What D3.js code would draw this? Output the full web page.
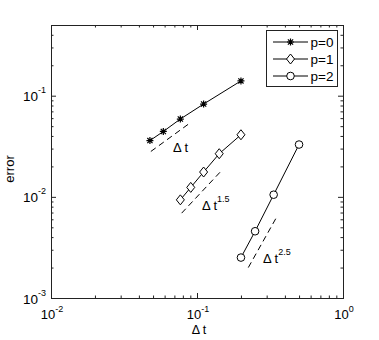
<!DOCTYPE html>
<html>
<head>
<meta charset="utf-8">
<script src="https://cdn.jsdelivr.net/npm/d3@7"></script>
<style>
  body { margin: 0; background: #fff; }
  text { font-family: "Liberation Sans", Arial, Helvetica, sans-serif; fill: #000; }
</style>
</head>
<body>
<div id="chart"></div>
<script>
// series: time step vs error
const dt0 = [0.0476, 0.0588, 0.0769, 0.111, 0.2];
const err0 = [0.0360, 0.0443, 0.0588, 0.0827, 0.140];
const dt1 = [0.0769, 0.0906, 0.111, 0.142, 0.2];
const err1 = [0.00934, 0.0124, 0.0176, 0.0267, 0.0411];
const dt2 = [0.2, 0.25, 0.335, 0.5];
const err2 = [0.00251, 0.00457, 0.0105, 0.0329];
const seriesNames = ["p=0", "p=1", "p=2"];
const markers = ["star", "diamond", "circle"];

// dashed reference slopes
const refDt = [[0.0483, 0.0906], [0.0785, 0.149], [0.2246, 0.3477]];
const refErr = [[0.0281, 0.0544], [0.0069, 0.0185], [0.0020, 0.00615]];
const refLabelDt = [0.0685, 0.108, 0.283];
const refLabelErr = [0.0279, 0.00743, 0.00222];
const refPow = ["", "1.5", "2.5"];

const xTicks = [0.01, 0.1, 1];
const xTickExp = ["-2", "-1", "0"];
const yTicks = [0.001, 0.01, 0.1];
const yTickExp = ["-3", "-2", "-1"];

const width = 379, height = 340;
const mLeft = 51, mRight = 343, mTop = 25, mBottom = 298;

const svg = d3.select("#chart").append("svg")
    .attr("width", width)
    .attr("height", height);

const x = d3.scaleLog().domain([0.01, 1]).range([mLeft, mRight]);
const y = d3.scaleLog().domain([0.001, 0.5]).range([mBottom, mTop]);

// minor tick values
function minors(lo, hi) {
    const out = [];
    for (let d = lo; d < hi; d *= 10) {
        for (let k = 2; k <= 9; k++) {
            const v = d * k;
            if (v <= hi * 1.0001) out.push(v);
        }
    }
    return out;
}
const xMinor = minors(0.01, 1);
const yMinor = minors(0.001, 0.5);

function drawAxis(axis, tr) {
    const g = svg.append("g").attr("transform", tr).call(axis);
    g.select(".domain").remove();
    g.selectAll("line").attr("stroke", "#222").attr("stroke-width", 1);
}

drawAxis(d3.axisBottom(x).tickValues(xTicks).tickSize(-5).tickFormat(""), `translate(0,${mBottom})`);
drawAxis(d3.axisBottom(x).tickValues(xMinor).tickSize(-2.5).tickFormat(""), `translate(0,${mBottom})`);
drawAxis(d3.axisTop(x).tickValues(xTicks).tickSize(-5).tickFormat(""), `translate(0,${mTop})`);
drawAxis(d3.axisTop(x).tickValues(xMinor).tickSize(-2.5).tickFormat(""), `translate(0,${mTop})`);
drawAxis(d3.axisLeft(y).tickValues(yTicks).tickSize(-5).tickFormat(""), `translate(${mLeft},0)`);
drawAxis(d3.axisLeft(y).tickValues(yMinor).tickSize(-2.5).tickFormat(""), `translate(${mLeft},0)`);
drawAxis(d3.axisRight(y).tickValues(yTicks).tickSize(-5).tickFormat(""), `translate(${mRight},0)`);
drawAxis(d3.axisRight(y).tickValues(yMinor).tickSize(-2.5).tickFormat(""), `translate(${mRight},0)`);

svg.append("rect")
    .attr("x", mLeft + 0.5).attr("y", mTop + 0.5)
    .attr("width", mRight - mLeft).attr("height", mBottom - mTop)
    .attr("fill", "none").attr("stroke", "#222").attr("stroke-width", 1);

// tick labels 10^n
xTicks.forEach((v, i) => {
    const t = svg.append("text")
        .attr("x", x(v) + 1).attr("y", mBottom + 21)
        .attr("text-anchor", "middle")
        .attr("font-size", 13);
    t.append("tspan").text("10");
    t.append("tspan").attr("dy", -7).attr("font-size", 9).text(xTickExp[i]);
});
yTicks.forEach((v, i) => {
    const t = svg.append("text")
        .attr("x", mLeft - 5).attr("y", y(v) + 5.5)
        .attr("text-anchor", "end")
        .attr("font-size", 13.5);
    t.append("tspan").text("10");
    t.append("tspan").attr("dy", -8).attr("font-size", 9).text(yTickExp[i]);
});

svg.append("text")
    .attr("x", 199).attr("y", 334)
    .attr("text-anchor", "middle")
    .attr("font-size", 12.5)
    .text("\u0394 t");

svg.append("text")
    .attr("transform", `translate(14,169) rotate(-90)`)
    .attr("text-anchor", "middle")
    .attr("font-size", 13)
    .text("error");

// reference slopes
refDt.forEach((xs, i) => {
    svg.append("line")
        .attr("x1", x(xs[0])).attr("y1", y(refErr[i][0]))
        .attr("x2", x(xs[1])).attr("y2", y(refErr[i][1]))
        .attr("stroke", "#000").attr("stroke-width", 1)
        .attr("stroke-dasharray", "6,4");
    const t = svg.append("text")
        .attr("x", x(refLabelDt[i])).attr("y", y(refLabelErr[i]))
        .attr("font-size", 13);
    t.append("tspan").text("\u0394 t");
    if (refPow[i]) t.append("tspan").attr("dy", -8).attr("font-size", 9).text(refPow[i]);
});

function drawMarker(g, kind, cx, cy) {
    if (kind === "star") {
        const r = 3.5, d = 2.6;
        const p = `M${cx - r},${cy}L${cx + r},${cy}M${cx},${cy - r}L${cx},${cy + r}` +
                  `M${cx - d},${cy - d}L${cx + d},${cy + d}M${cx - d},${cy + d}L${cx + d},${cy - d}`;
        g.append("path").attr("d", p).attr("stroke", "#000").attr("stroke-width", 1.2).attr("fill", "none");
    } else if (kind === "diamond") {
        const w = 4, h = 5;
        g.append("path")
            .attr("d", `M${cx},${cy - h}L${cx + w},${cy}L${cx},${cy + h}L${cx - w},${cy}Z`)
            .attr("stroke", "#000").attr("stroke-width", 1).attr("fill", "#fff");
    } else {
        g.append("circle").attr("cx", cx).attr("cy", cy).attr("r", 3.8)
            .attr("stroke", "#000").attr("stroke-width", 1).attr("fill", "#fff");
    }
}

const line = d3.line().x(d => x(d[0])).y(d => y(d[1]));
const allDt = [dt0, dt1, dt2];
const allErr = [err0, err1, err2];
allDt.forEach((xs, i) => {
    const pts = xs.map((v, j) => [v, allErr[i][j]]);
    const g = svg.append("g");
    g.append("path").attr("d", line(pts))
        .attr("fill", "none").attr("stroke", "#000").attr("stroke-width", 1);
    pts.forEach(p => drawMarker(g, markers[i], x(p[0]), y(p[1])));
});

// legend
const lg = svg.append("g");
lg.append("rect")
    .attr("x", 266.5).attr("y", 30.5).attr("width", 71).attr("height", 56)
    .attr("fill", "#fff").attr("stroke", "#222").attr("stroke-width", 1);
seriesNames.forEach((name, i) => {
    const ly = 42 + i * 17;
    lg.append("line").attr("x1", 273).attr("x2", 308).attr("y1", ly).attr("y2", ly)
        .attr("stroke", "#000").attr("stroke-width", 1);
    drawMarker(lg, markers[i], 290.5, ly);
    lg.append("text").attr("x", 310.5).attr("y", ly + 5)
        .attr("font-size", 13.5).text(name);
});
</script>
</body>
</html>
